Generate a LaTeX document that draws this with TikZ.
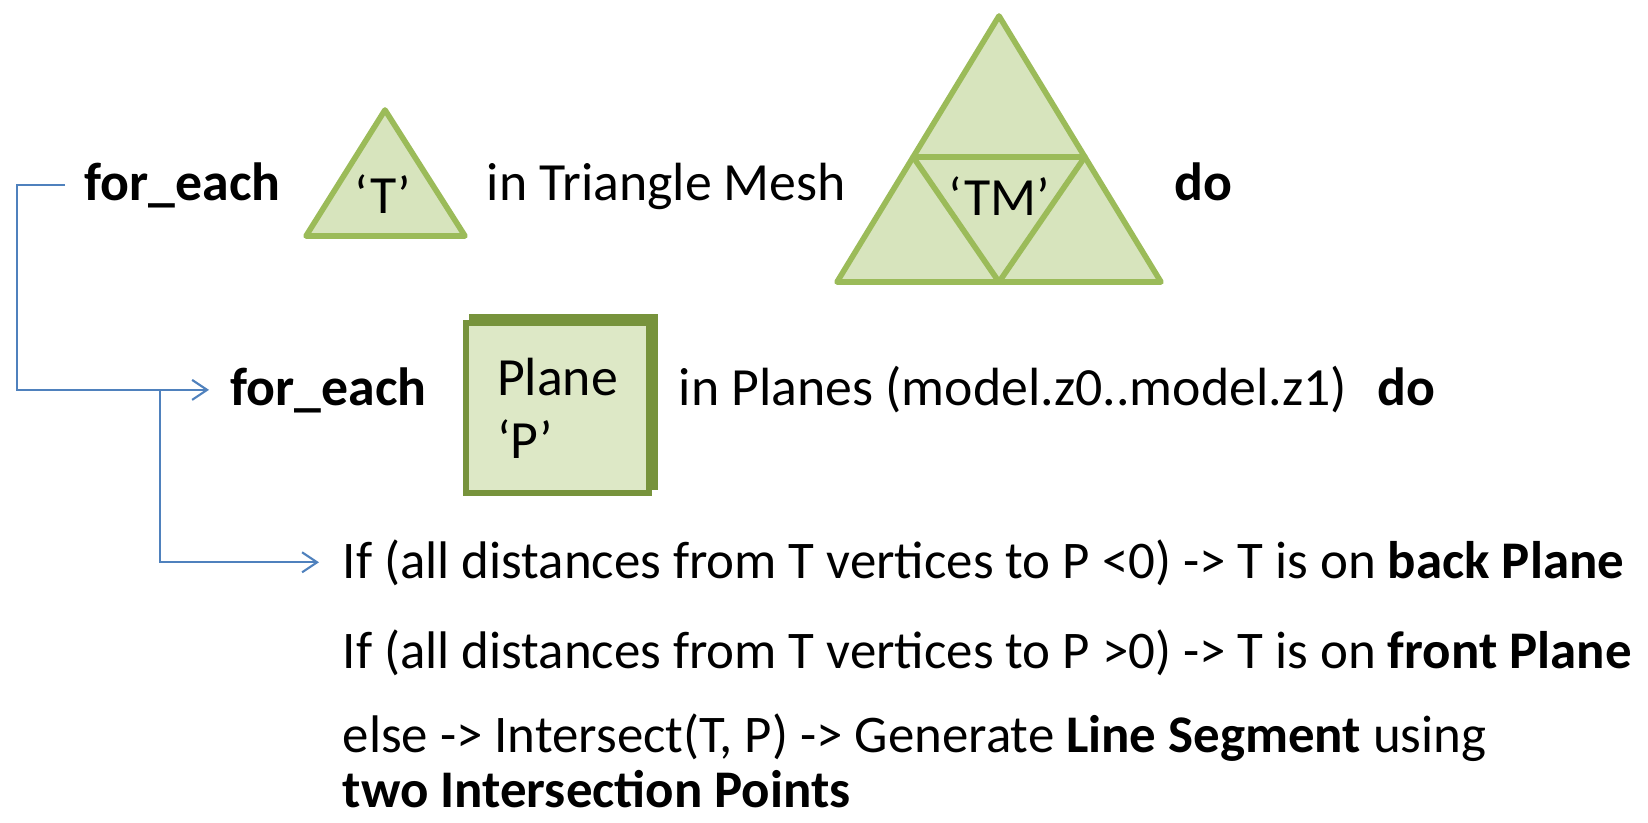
\documentclass[tikz,border=0pt]{standalone}
\usepackage{fontspec}
\setmainfont{Carlito}
\usepackage{xcolor}
\usetikzlibrary{arrows.meta,calc,shadows}

\definecolor{flowblue}{HTML}{4F81BD}
\definecolor{meshgreen}{HTML}{9BBB59}
\definecolor{meshfill}{HTML}{D7E4BD}
\definecolor{planegreen}{HTML}{77933C}
\definecolor{planefill}{HTML}{DDE8C6}

\begin{document}
\begin{tikzpicture}[
    txt/.style={anchor=base west, inner sep=0pt, font=\fontsize{15.3}{18}\selectfont},
    case/.style={txt, font=\fontsize{15.05}{18}\selectfont},
    lbl/.style={anchor=base, inner sep=0pt, font=\fontsize{15.3}{18}\selectfont},
    flow/.style={draw=flowblue, line width=0.6pt, -{Straight Barb[length=0.15cm,width=0.2cm]}},
    mesh/.style={draw=meshgreen, fill=meshfill, line width=1.6pt, line join=round},
    planebox/.style={draw=planegreen, fill=planefill, line width=1.7pt,
        minimum width=1.83cm, minimum height=1.70cm, align=left,
        font=\fontsize{15.3}{18}\selectfont,
        general shadow={fill=planegreen, draw=planegreen, line width=1.7pt,
            shadow xshift=0.06cm, shadow yshift=0.06cm}}
]
    \useasboundingbox (0,0) rectangle (16.48,8.22);

    % Outer loop over the triangles
    \node[txt] (fe1) at (0.84,6.22) {\textbf{for\_each}};
    \draw[mesh] (3.06,5.86) -- (3.85,7.12) -- (4.65,5.86) -- cycle;
    \node[lbl] (tri) at (3.83,6.08) {‘T’};
    \node[txt] (mesh) at (4.86,6.22) {in Triangle Mesh};

    % Triangle mesh
    \coordinate (mt) at (9.99,8.06);
    \coordinate (ml) at (8.37,5.40);
    \coordinate (mr) at (11.61,5.40);
    \draw[mesh] (ml) -- (mt) -- (mr) -- cycle;
    \draw[mesh, fill=none] ($(mt)!0.53!(ml)$) -- ($(mt)!0.53!(mr)$) -- ($(ml)!0.5!(mr)$) -- cycle;
    \node[lbl] (tm) at (9.99,6.07) {‘TM’};
    \node[txt] (do1) at (11.74,6.22) {\textbf{do}};

    % Inner loop over the planes
    \node[txt] (fe2) at (2.30,4.17) {\textbf{for\_each}};
    \node[planebox] (plane) at (5.575,4.14) {Plane\\‘P’};
    \node[txt] (planes) at (6.78,4.17) {in Planes (model.z0..model.z1)};
    \node[txt] (do2) at (13.77,4.17) {\textbf{do}};

    % Cases
    \foreach \n/\y/\txt in {
        cond1/2.44/{If (all distances from T vertices to P <0) -> T is on \textbf{back Plane}},
        cond2/1.54/{If (all distances from T vertices to P >0) -> T is on \textbf{front Plane}},
        cond3/0.70/{else -> Intersect(T, P) -> Generate \textbf{Line Segment} using},
        cond4/0.15/{\textbf{two Intersection Points}}} {
        \node[case] (\n) at (3.42,\y) {\txt};
    }

    % Loop arrows
    \draw[flow] ([xshift=-0.19cm]fe1.west) -- ++(-0.48,0) |- ([xshift=-0.21cm]fe2.west);
    \coordinate (branch) at ([xshift=-0.70cm]fe2.west);
    \draw[flow] (branch) |- ([xshift=-0.23cm]cond1.west);
\end{tikzpicture}
\end{document}
